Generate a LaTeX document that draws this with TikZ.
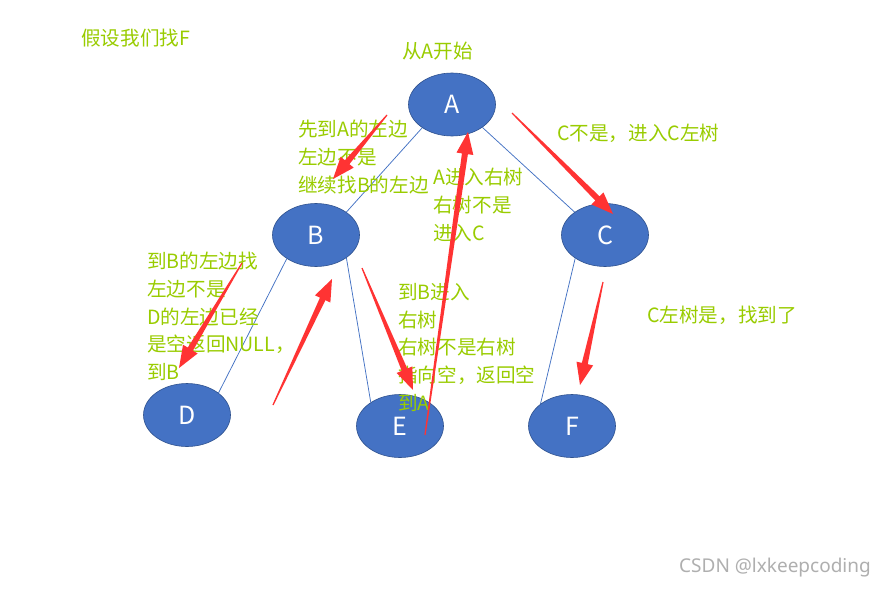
\documentclass[tikz,border=0pt]{standalone}
\usepackage{fontspec}
\setmainfont{Noto Sans CJK SC}
\newfontfamily\wmfont{Noto Sans}
\usetikzlibrary{shapes.geometric,calc}
\definecolor{nodeblue}{RGB}{68,114,196}
\definecolor{nodeedge}{RGB}{47,82,143}
\definecolor{notegreen}{RGB}{153,204,0}
\definecolor{arrowred}{RGB}{255,51,51}
\definecolor{wmgrey}{RGB}{175,175,175}
\newcommand\redarr[3]{%
  \path ($(#2)!22pt!(#1)$) coordinate (#3b);
  \fill[arrowred] ($(#1)!0.6pt!90:(#2)$) -- ($(#3b)!3pt!90:(#2)$) -- ($(#3b)!8.5pt!90:(#2)$) -- (#2)
    -- ($(#3b)!8.5pt!-90:(#2)$) -- ($(#3b)!3pt!-90:(#2)$) -- ($(#1)!0.6pt!-90:(#2)$) -- cycle;
}
\begin{document}
\begin{tikzpicture}[x=1pt,y=-1pt,
  treenode/.style={ellipse,fill=nodeblue,draw=nodeedge,line width=0.6pt,minimum width=87pt,minimum height=63pt,inner sep=0pt,text=white,font=\fontsize{25}{28}\selectfont},
  treeedge/.style={draw=nodeblue,line width=0.75pt},
  note/.style={text=notegreen,inner sep=0pt,align=left,font=\fontsize{19.6}{27.7}\selectfont},
]
\useasboundingbox (0,0) rectangle (886,589);
\fill[white] (0,0) rectangle (886,589);

% tree nodes
\node[treenode] (A) at (452,104.5) {A};
\node[treenode] (B) at (316,235) {B};
\node[treenode] (C) at (605,235) {C};
\node[treenode] (D) at (187,415) {D};
\node[treenode] (E) at (400,426) {E};
\node[treenode] (F) at (572,426) {F};

% tree edges
\draw[treeedge] (A.-142) -- (B.37);
\draw[treeedge] (A.-37) -- (C.143);
\draw[treeedge] (B.-141) -- (D.35);
\draw[treeedge] (B.-37) -- (E.141);
\draw[treeedge] (C.-142) -- (F.145);

% notes
\node[note,anchor=west] (n0) at (81,38.5) {假设我们找F};
\node[note,anchor=west] (n1) at (402,51) {从A开始};
\node[note,anchor=north west] (n2) at (298,120) {先到A的左边\\左边不是\\继续找B的左边};
\node[note,anchor=north west] (n3) at (433,168) {A进入右树\\右树不是\\进入C};
\node[note,anchor=west] (n4) at (557,133) {C不是，进入C左树};
\node[note,anchor=north west] (n5) at (147,252) {到B的左边找\\左边不是\\D的左边已经\\是空返回NULL，\\到B};
\node[note,anchor=north west] (n6) at (398,283) {到B进入\\右树\\右树不是右树\\指向空，返回空\\到A};
\node[note,anchor=west] (n7) at (647,315) {C左树是，找到了};

% red arrows
\coordinate (t1) at (387,115); \coordinate (h1) at (333,179);
\coordinate (t2) at (242,263); \coordinate (h2) at (179,368);
\coordinate (t3) at (273,405); \coordinate (h3) at (332,279);
\coordinate (t4) at (362,268); \coordinate (h4) at (413,390);
\coordinate (t5) at (425,435); \coordinate (h5) at (468,132);
\coordinate (t6) at (512,113); \coordinate (h6) at (613,214);
\coordinate (t7) at (603,282); \coordinate (h7) at (580,385);
\redarr{t1}{h1}{a1}
\redarr{t2}{h2}{a2}
\redarr{t3}{h3}{a3}
\redarr{t4}{h4}{a4}
\redarr{t5}{h5}{a5}
\redarr{t6}{h6}{a6}
\redarr{t7}{h7}{a7}

% watermark
\node[text=wmgrey,inner sep=0pt,anchor=east,font=\wmfont\fontsize{19}{22}\selectfont] (wm) at (871,568) {CSDN @lxkeepcoding};
\end{tikzpicture}
\end{document}
